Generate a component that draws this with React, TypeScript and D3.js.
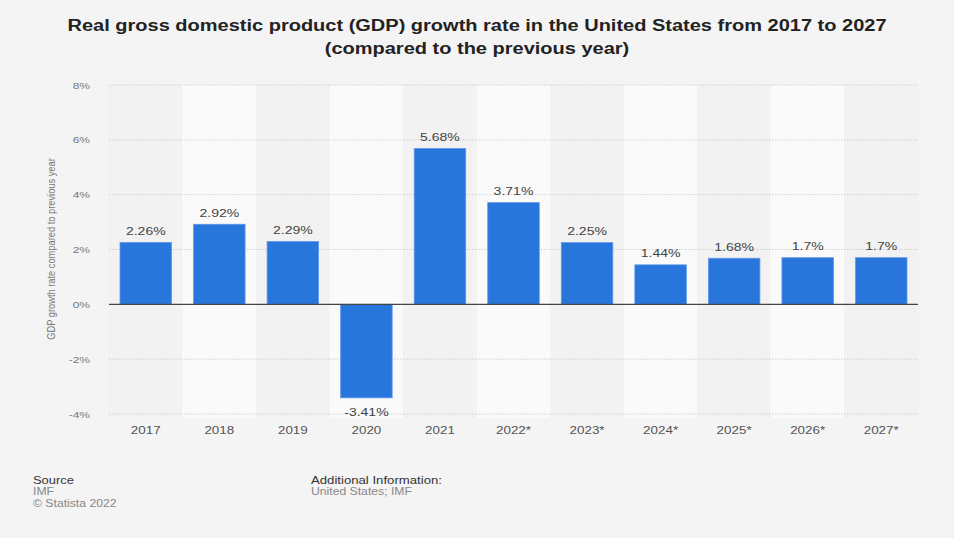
import React from "react";
import * as d3 from "d3";

const years = ["2017", "2018", "2019", "2020", "2021", "2022*", "2023*", "2024*", "2025*", "2026*", "2027*"];
const values = [2.26, 2.92, 2.29, -3.41, 5.68, 3.71, 2.25, 1.44, 1.68, 1.7, 1.7];
const valueLabels = ["2.26%", "2.92%", "2.29%", "-3.41%", "5.68%", "3.71%", "2.25%", "1.44%", "1.68%", "1.7%", "1.7%"];
const yTicks = [-4, -2, 0, 2, 4, 6, 8];
const titleLines = [
  "Real gross domestic product (GDP) growth rate in the United States from 2017 to 2027",
  "(compared to the previous year)",
];

const W = 954;
const H = 538;
const FONT = "'Liberation Sans', Arial, Helvetica, sans-serif";
const SX = 1.22;

function T(props: { x: number; y: number; s?: number; anchor?: string; size: number; fill: string; weight?: string; children: React.ReactNode }) {
  const { x, y, s = SX, anchor = "start", size, fill, weight = "normal", children } = props;
  return (
    <text transform={`translate(${x},${y}) scale(${s},1)`} textAnchor={anchor} fontSize={size} fill={fill} fontWeight={weight}>
      {children}
    </text>
  );
}

export default function App() {
  const x = d3.scaleBand<string>().domain(years).range([109, 918]).paddingInner(0.3).paddingOuter(0.15);
  const band = d3.scaleBand<string>().domain(years).range([109, 918]).padding(0);
  const y = d3.scaleLinear().domain([-4, 8]).range([414, 85]);
  const y0 = y(0);

  return (
    <svg width={W} height={H} style={{ position: "absolute", left: 0, top: 0 }} fontFamily={FONT}>
      <rect x={0} y={0} width={W} height={H} fill="#f4f4f4" />
      {titleLines.map((t, i) => (
        <T key={i} x={477} y={30.7 + i * 23.3} s={1.25} anchor="middle" size={16} weight="bold" fill="#222">
          {t}
        </T>
      ))}
      {years.map((yr, i) => (
        <rect key={"b" + yr} x={band(yr)} y={85} width={band.bandwidth()} height={414 - 85 + 4}
          fill={i % 2 === 1 ? "#fafafa" : "#f2f2f2"} />
      ))}
      {yTicks.filter((t) => t !== 0).map((t) => (
        <line key={"g" + t} x1={109} x2={918} y1={y(t)} y2={y(t)} stroke="#cfcfcf" strokeWidth={1} strokeDasharray="1.5,1.5" />
      ))}
      {yTicks.map((t) => (
        <T key={"yt" + t} x={90} y={y(t) + 3.5} anchor="end" size={9.8} fill="#777">
          {t + "%"}
        </T>
      ))}
      <text transform={`translate(55,249) rotate(-90) scale(1,${SX})`} textAnchor="middle" fontSize={9.3} fill="#777">
        GDP growth rate compared to previous year
      </text>
      {years.map((yr, i) => {
        const v = values[i];
        const top = Math.min(y(v), y0);
        const h = Math.abs(y(v) - y0);
        return (
          <g key={"bar" + yr}>
            <rect x={x(yr)} y={top} width={x.bandwidth()} height={h} fill="#2875dc" stroke="#5b96e6" strokeWidth={0.8} />
            <T x={(x(yr) as number) + x.bandwidth() / 2} y={v >= 0 ? y(v) - 7.6 : y(v) + 18.5}
              anchor="middle" size={11.5} fill="#444">
              {valueLabels[i]}
            </T>
            <T x={band(yr)! + band.bandwidth() / 2} y={433.5} anchor="middle" size={11} fill="#555">
              {yr}
            </T>
          </g>
        );
      })}
      <line x1={109} x2={918} y1={y0} y2={y0} stroke="#444" strokeWidth={1.3} />
      <T x={33} y={484.3} size={10.6} fill="#333">Source</T>
      <T x={33} y={495.3} size={10} fill="#888">IMF</T>
      <T x={33} y={506.5} size={10} fill="#888">© Statista 2022</T>
      <T x={311} y={484.3} size={10.8} fill="#333">Additional Information:</T>
      <T x={311} y={495.3} size={10} fill="#888">United States; IMF</T>
    </svg>
  );
}
